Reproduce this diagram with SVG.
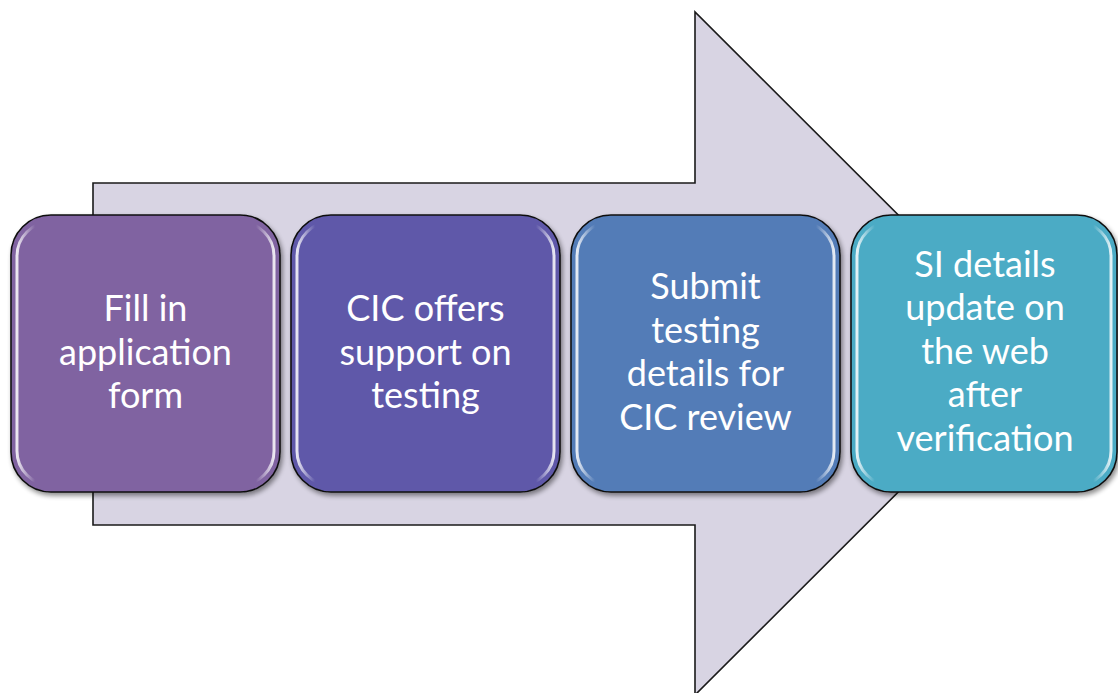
<svg xmlns="http://www.w3.org/2000/svg" width="1118" height="693" viewBox="0 0 1118 693">
  <style>
    .arrow { fill: #d8d4e3; stroke: #1a1a1a; stroke-width: 1.6; stroke-linejoin: miter; }
    .box { stroke: #111; stroke-width: 1.6; filter: url(#shadow); }
    .gloss { fill: none; stroke: url(#edge); stroke-width: 3; }
    .label { font-family: Lato, "Open Sans", sans-serif; font-size: 36px; fill: #ffffff; text-anchor: middle; }
  </style>
  <defs>
    <filter id="shadow" x="-10%" y="-10%" width="125%" height="125%">
      <feGaussianBlur in="SourceAlpha" stdDeviation="2.5"/>
      <feOffset dx="1.5" dy="3" result="b"/>
      <feComponentTransfer><feFuncA type="linear" slope="0.45"/></feComponentTransfer>
      <feMerge><feMergeNode/><feMergeNode in="SourceGraphic"/></feMerge>
    </filter>
    <linearGradient id="edge" x1="0" y1="0" x2="1" y2="0">
      <stop offset="0" stop-color="#ffffff" stop-opacity="0.85"/>
      <stop offset="0.07" stop-color="#ffffff" stop-opacity="0"/>
      <stop offset="0.93" stop-color="#ffffff" stop-opacity="0"/>
      <stop offset="1" stop-color="#ffffff" stop-opacity="0.85"/>
    </linearGradient>
  </defs>

  <g id="arrow">
    <polygon class="arrow" points="93,183 695,183 695,12 1037,353.5 695,695 695,525 93,525"/>
  </g>

  <g id="connectors"></g>

  <g id="node1">
    <rect class="box" x="11" y="215" width="269" height="277" rx="40" ry="40" fill="#8063a1"/>
    <rect class="gloss" x="17" y="222" width="257" height="263" rx="34" ry="34"/>
    <text class="label" x="145.5" y="321">Fill in</text>
    <text class="label" x="145.5" y="365">application</text>
    <text class="label" x="145.5" y="408">form</text>
  </g>

  <g id="node2">
    <rect class="box" x="291" y="215" width="269" height="277" rx="40" ry="40" fill="#5e59a9"/>
    <rect class="gloss" x="297" y="222" width="257" height="263" rx="34" ry="34"/>
    <text class="label" x="425.5" y="321">CIC offers</text>
    <text class="label" x="425.5" y="365">support on</text>
    <text class="label" x="425.5" y="408">testing</text>
  </g>

  <g id="node3">
    <rect class="box" x="571" y="215" width="269" height="277" rx="40" ry="40" fill="#527bb7"/>
    <rect class="gloss" x="577" y="222" width="257" height="263" rx="34" ry="34"/>
    <text class="label" x="705.5" y="299">Submit</text>
    <text class="label" x="705.5" y="343">testing</text>
    <text class="label" x="705.5" y="386">details for</text>
    <text class="label" x="705.5" y="430">CIC review</text>
  </g>

  <g id="node4">
    <rect class="box" x="851" y="215" width="266" height="277" rx="40" ry="40" fill="#4babc5"/>
    <rect class="gloss" x="857" y="222" width="254" height="263" rx="34" ry="34"/>
    <text class="label" x="985" y="277">SI details</text>
    <text class="label" x="985" y="320">update on</text>
    <text class="label" x="985" y="364">the web</text>
    <text class="label" x="985" y="407">after</text>
    <text class="label" x="985" y="451">verification</text>
  </g>
</svg>
